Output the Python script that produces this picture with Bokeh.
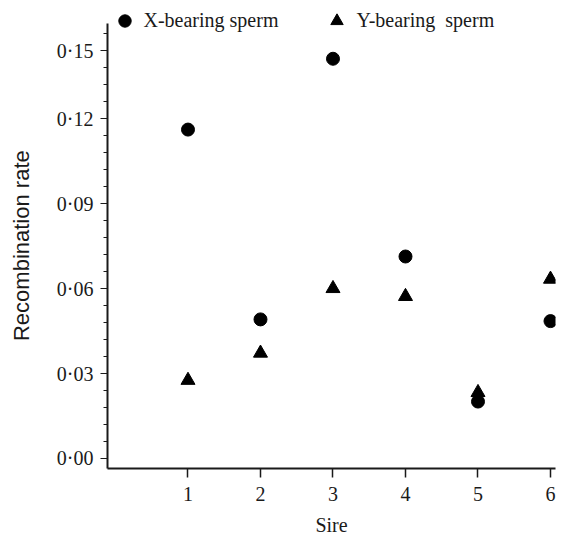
from bokeh.plotting import figure
from bokeh.models import FixedTicker, Legend, LegendItem, Range1d
from bokeh.embed import file_html
from bokeh.resources import INLINE

# ---- data ----
sires = [1, 2, 3, 4, 5, 6]
x_bearing = [0.1161, 0.0491, 0.1411, 0.0713, 0.0201, 0.0485]
y_bearing = [0.0276, 0.0372, 0.0600, 0.0572, 0.0233, 0.0633]

x_tick_values = [1, 2, 3, 4, 5, 6]
# the original figure draws its top label one minor step low
y_tick_values = [0.0, 0.03, 0.06, 0.09, 0.12, 0.144]
y_tick_labels = ["0·00", "0·03", "0·06", "0·09", "0·12", "0·15"]
y_minor_values = [round(i * 0.006, 3) for i in range(26)]
y_axis_extent = (-0.00353, 0.15355)

SERIF = "Liberation Serif"
SANS = "Liberation Sans"
INK = "#1a1a1a"

# the frame reaches near the top of the canvas so the legend above the axis is not clipped
p = figure(
    width=562, height=539,
    x_range=Range1d(-0.1103, 6.069),
    y_range=Range1d(-0.00353, 0.16025),
    output_backend="svg", toolbar_location=None,
    min_border_left=107, min_border_right=7,
    min_border_top=4, min_border_bottom=71,
)
p.outline_line_color = None
p.xgrid.visible = False
p.ygrid.visible = False
p.background_fill_color = "white"
p.border_fill_color = "white"

r_x = p.scatter(sires, x_bearing, marker="circle", size=13,
                fill_color="black", line_color="black")
r_y = p.scatter(sires, y_bearing, marker="triangle", size=14,
                fill_color="black", line_color="black")

# x axis
xa = p.xaxis[0]
xa.ticker = FixedTicker(ticks=x_tick_values)
xa.axis_label = "Sire"
xa.axis_label_text_font = SERIF
xa.axis_label_text_font_style = "normal"
xa.axis_label_text_font_size = "20px"
xa.axis_label_text_color = INK
xa.axis_label_standoff = 10
xa.major_label_text_font = SERIF
xa.major_label_text_font_size = "20px"
xa.major_label_text_color = INK
xa.major_label_standoff = 9
xa.axis_line_width = 2
xa.axis_line_color = INK
xa.major_tick_line_color = INK
xa.major_tick_line_width = 1.5
xa.major_tick_out = 9
xa.major_tick_in = 0
xa.minor_tick_line_color = None

# y axis
ya = p.yaxis[0]
ya.bounds = y_axis_extent
ya.ticker = FixedTicker(ticks=y_tick_values, minor_ticks=y_minor_values)
ya.major_label_overrides = {v: s for v, s in zip(y_tick_values, y_tick_labels)}
# trailing no-break spaces centre the title on the drawn axis, not the taller frame
ya.axis_label = "Recombination rate\u00a0\u00a0\u00a0"
ya.axis_label_text_font = SANS
ya.axis_label_text_font_style = "normal"
ya.axis_label_text_font_size = "22px"
ya.axis_label_text_color = INK
ya.axis_label_standoff = 20
ya.major_label_text_font = SERIF
ya.major_label_text_font_size = "20px"
ya.major_label_text_color = INK
ya.major_label_standoff = 7
ya.axis_line_width = 2
ya.axis_line_color = INK
ya.major_tick_line_color = INK
ya.major_tick_line_width = 1.2
ya.major_tick_out = 7
ya.major_tick_in = 0
ya.minor_tick_line_color = INK
ya.minor_tick_line_width = 1
ya.minor_tick_out = 4
ya.minor_tick_in = 0

legend = Legend(
    items=[LegendItem(label="X-bearing sperm", renderers=[r_x]),
           LegendItem(label="Y-bearing  sperm", renderers=[r_y])],
    orientation="horizontal",
    location=(1.5, 432.5),
    glyph_width=31, glyph_height=31,
    label_standoff=4, spacing=43,
    padding=0, margin=0,
    label_text_font=SERIF, label_text_font_size="20px",
    label_text_color=INK,
    border_line_color=None, background_fill_alpha=0,
)
p.add_layout(legend)

open("out.html", "w").write(file_html(p, INLINE))
